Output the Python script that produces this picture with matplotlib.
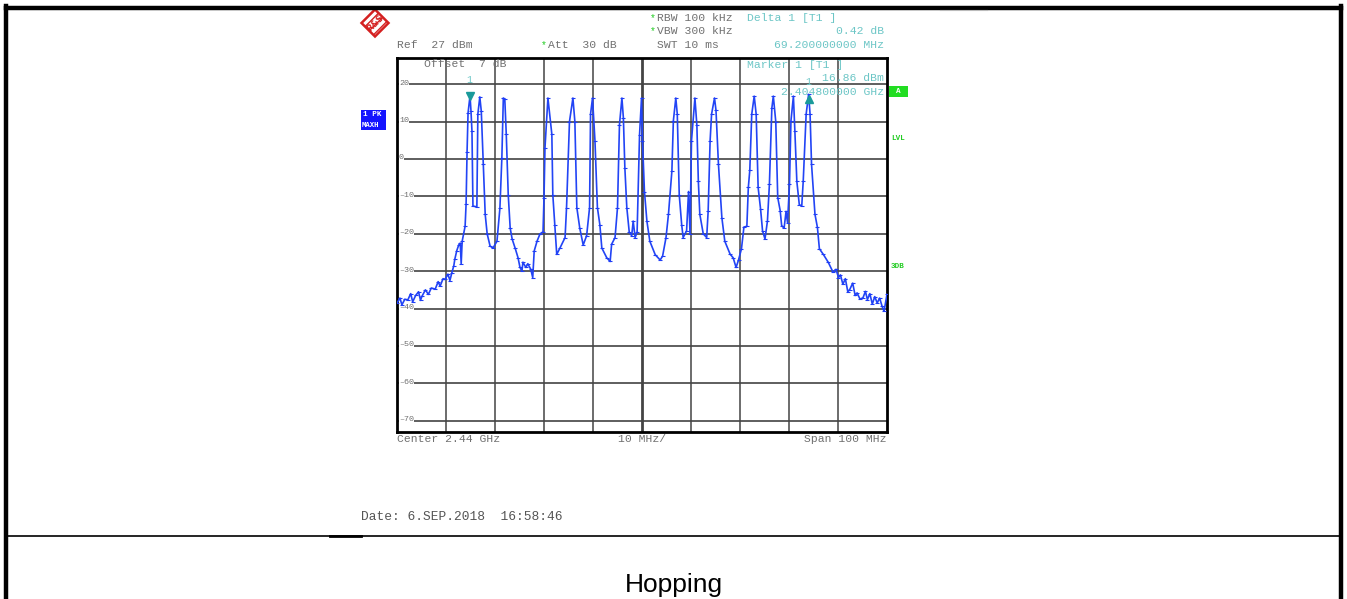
import numpy as np
import matplotlib.pyplot as plt
from matplotlib.lines import Line2D
from matplotlib.patches import Polygon, Rectangle

# 分析仪设置
center_mhz = 2440.0
span_mhz = 100.0
ref_level = 27
offset_db = 7
y_ticks = [20, 10, 0, -10, -20, -30, -40, -50, -60, -70]

# 迹线数据：相对起始频率的偏移 (MHz) 与电平 (dBm)
trace_off = [0.0, 0.6, 1.0, 1.6, 2.2, 2.8, 3.2, 3.8, 4.4, 4.8, 5.1, 5.8, 6.4, 7.0, 7.8, 8.4, 8.8, 9.4, 9.8,
             10.4, 10.8, 11.2, 11.6, 11.8, 12.2, 12.6, 12.9, 13.1, 13.3, 13.9, 14.1, 14.3, 14.5, 14.9, 15.1,
             15.3, 15.5, 16.3, 16.5, 16.9, 17.2, 17.6, 18.0, 18.4, 19.0, 19.6, 20.4, 21.0, 21.4, 21.7, 22.0,
             22.3, 22.7, 23.1, 23.5, 24.1, 24.7, 25.1, 25.5, 25.7, 26.3, 26.7, 27.3, 27.7, 28.0, 28.6, 29.2,
             29.8, 30.0, 30.2, 30.8,
             31.6, 31.8, 32.2, 32.6, 33.3, 34.3, 34.6, 35.2, 35.9, 36.3, 36.7, 37.3, 38.0, 38.7, 39.3, 39.5,
             39.9, 40.4, 40.9, 41.4, 41.8, 42.8, 43.5, 43.8, 44.5, 45.0, 45.4, 45.9, 46.2, 46.5, 46.9, 47.4,
             47.9, 48.2, 48.6, 49.0, 49.5, 49.9, 50.1, 50.5, 51.0, 51.6, 52.7, 53.7, 54.2, 54.9, 55.4, 56.1,
             56.4, 56.9, 57.2, 57.6, 58.1, 58.4, 59.1, 59.5, 59.8, 60.1, 60.8, 61.2, 61.5, 61.8, 62.5, 63.2,
             63.5, 63.9, 64.2, 64.8, 65.1, 65.6, 66.3, 66.9, 68.0, 68.6, 69.2, 69.7,
             70.3, 70.8, 71.4, 71.7, 72.0, 72.4, 72.9, 73.3, 73.7, 74.2, 74.6, 75.1, 75.6, 76.0, 76.5, 76.8,
             77.3, 77.7, 78.2, 78.5, 79.0, 79.4, 79.7, 80.1, 80.4, 80.9, 81.2, 81.6, 82.1, 82.6, 82.9, 83.5,
             84.0, 84.3, 84.6, 85.3, 85.8, 86.2, 87.0, 88.0, 89.0, 89.6, 90.1, 90.5, 91.0, 91.5, 92.0, 92.4,
             93.0, 93.5, 93.9, 94.5, 95.1, 95.6, 96.0, 96.5, 97.0, 97.5, 98.0, 98.5, 99.0, 99.4, 100.0]
trace_dbm = [-38.5, -37.2, -39.0, -37.5, -37.7, -36.0, -38.2, -36.5, -35.5, -37.8, -36.7, -35.0, -36.2, -34.5,
             -34.8, -32.8, -34.0, -32.0, -32.2, -30.8, -32.5, -30.4, -28.5, -26.8, -24.5, -23.0, -22.5, -28.0,
             -22.0, -18.0, -12.0, 2.0, 12.3, 16.9, 12.8, 7.4, -12.6, -12.8, 12.0, 16.6, 12.8, -1.4, -14.8,
             -20.0, -23.3, -23.8, -22.0, -13.2, 0.3, 16.3, 16.0, 6.6, -9.5, -18.5, -21.4, -23.8, -26.4, -29.0,
             -30.0, -27.6, -29.0, -28.0, -29.5, -31.7, -24.6, -21.9, -20.0, -19.5, -10.4, 3.0, 16.3,
             6.6, -9.6, -17.6, -25.5, -23.7, -21.0, -13.0, 10.0, 16.3, 10.0, -13.0, -18.5, -23.0, -20.5, -13.0,
             12.0, 16.3, 4.9, -13.0, -17.6, -23.8, -26.4, -27.4, -22.8, -21.0, -13.0, 9.1, 16.3, 11.0, -2.3,
             -13.0, -19.6, -20.5, -16.6, -21.0, -19.6, 6.5, 16.3, 4.9, -8.7, -16.6, -22.0, -25.6, -27.0, -26.0,
             -21.0, -14.8, -3.2, 10.2, 16.3, 12.0, -9.6, -17.6, -21.0, -19.2, -8.7, -20.0, 4.9, 16.3, 9.0,
             -6.0, -14.8, -20.0, -21.0, -14.0, 4.9, 12.0, 16.3, 13.0, -1.4, -15.7, -22.0, -25.5, -26.4, -29.0,
             -27.0,
             -24.0, -18.2, -18.0, -7.6, -3.0, 12.0, 16.8, 12.0, -7.6, -13.4, -19.2, -21.4, -16.6, -6.8, 13.6,
             16.8, 10.0, -10.3, -13.8, -17.8, -18.5, -14.0, -17.0, -6.8, 10.2, 16.8, 7.4, -6.0, -12.2, -12.6,
             -6.0, 12.0, 17.28, 12.0, -1.4, -14.8, -18.3, -24.0, -25.5, -27.6, -30.3, -29.5, -31.7, -31.0,
             -33.5, -32.0, -35.5, -34.9, -33.2, -36.5, -35.8, -37.5, -37.1, -35.4, -37.6, -36.0, -38.8, -36.8,
             -38.5, -37.2, -39.4, -40.7, -36.2]

# 标记
marker1_mhz = 2404.8
marker1_dbm = 16.86
delta_mhz = 69.2
delta_db = 0.42

W, H = 1347, 599
fig = plt.figure(figsize=(W / 100, H / 100), dpi=100)
mono = 'Liberation Mono'
gray = '#707070'
teal = '#6cc6c6'
green = '#22cc22'


def fx(x):
    return x / W


def fy(y):
    return 1 - y / H


def ftext(x, y, s, **kw):
    kw.setdefault('family', mono)
    kw.setdefault('fontsize', 8.2)
    kw.setdefault('color', gray)
    kw.setdefault('va', 'center')
    fig.text(fx(x), fy(y), s, **kw)


def fline(xs, ys, **kw):
    fig.add_artist(Line2D([fx(v) for v in xs], [fy(v) for v in ys], transform=fig.transFigure, **kw))


# 外框表格线
fline([6, 1341], [7.5, 7.5], color='black', lw=3.2)
fline([6.5, 6.5], [6, 599], color='black', lw=3.2)
fline([1340.5, 1340.5], [6, 599], color='black', lw=3.2)
fline([8, 1340], [535.5, 535.5], color='black', lw=1.2)
fline([330, 361], [535.5, 535.5], color='black', lw=2)
fline([940, 987], [9.8, 9.8], color='#bbbbbb', lw=0.8)

# 频谱图
start_mhz = center_mhz - span_mhz / 2
freq = start_mhz + np.array(trace_off)
ax = fig.add_axes([fx(397), fy(432), fx(887) - fx(397), fy(58) - fy(432)])
ax.set_xlim(start_mhz, start_mhz + span_mhz)
ax.set_ylim(ref_level - 100, ref_level)
for v in y_ticks:
    ax.axhline(v, color='#333333', lw=1.1, zorder=1)
for k in range(1, 10):
    ax.axvline(start_mhz + k * 10, color='#444444', lw=2.0 if k == 5 else 1.1, zorder=1)
for s in ax.spines.values():
    s.set_linewidth(2)
ax.set_xticks([])
ax.set_yticks([])
for v in y_ticks:
    ax.text(start_mhz + 0.4, v + 0.3, f'{v}'.replace('-', '\u2013'), family=mono, fontsize=6, color=gray,
            va='center', ha='left', zorder=2,
            bbox=dict(facecolor='white', edgecolor='none', pad=0.2))
ax.plot(freq, trace_dbm, color='#2244f5', lw=1.2, zorder=3,
        marker='_', ms=2.5, mew=0.8, mec='#1f3df7')

# 标记三角
m2_mhz = marker1_mhz + delta_mhz
m2_dbm = marker1_dbm + delta_db
ax.plot([marker1_mhz], [marker1_dbm], marker='v', color='#1a9a9a', ms=6, zorder=4)
ax.plot([m2_mhz], [m2_dbm - 1.2], marker='^', color='#1a9a9a', ms=6, zorder=4)
ax.text(marker1_mhz, marker1_dbm + 4.2, '1', family=mono, fontsize=7, color=teal, ha='center', va='center')
ax.text(m2_mhz, m2_dbm + 3.4, '1', family=mono, fontsize=7, color=teal, ha='center', va='center')

# R&S 标志
cx, cy, r = 375, 23, 13.5
fig.add_artist(Polygon([(fx(cx), fy(cy - r)), (fx(cx + r), fy(cy)), (fx(cx), fy(cy + r)), (fx(cx - r), fy(cy))],
                       closed=True, transform=fig.transFigure, facecolor='white', edgecolor='#d42020',
                       lw=1.8, hatch='////'))
fig.text(fx(cx), fy(cy), 'R&S', fontsize=6, color='#d42020', ha='center', va='center', rotation=45,
         weight='bold')

# 顶部设置信息
ftext(397, 45, 'Ref  27 dBm')
ftext(541, 45, '*', color=green, fontsize=7)
ftext(548, 45, 'Att  30 dB')
ftext(650, 18, '*', color=green, fontsize=7)
ftext(657, 18, 'RBW 100 kHz')
ftext(650, 31, '*', color=green, fontsize=7)
ftext(657, 31, 'VBW 300 kHz')
ftext(657, 45, 'SWT 10 ms')
ftext(747, 18, 'Delta 1 [T1 ]', color=teal)
ftext(884, 31, f'{delta_db:.2f} dB', color=teal, ha='right')
ftext(884, 45, f'{delta_mhz:.9f} MHz', color=teal, ha='right')
ftext(424, 64, f'Offset  {offset_db} dB')
ftext(747, 65, 'Marker 1 [T1 ]', color=teal)
ftext(884, 78, f'{marker1_dbm:.2f} dBm', color=teal, ha='right')
ftext(884, 92, f'{marker1_mhz / 1000:.9f} GHz', color=teal, ha='right')

# 左侧迹线标签与右侧状态
fig.add_artist(Rectangle((fx(361), fy(119.5)), fx(25), fy(110) - fy(119.5), transform=fig.transFigure,
                         facecolor='#1414ff', edgecolor='none'))
fig.add_artist(Rectangle((fx(361), fy(129.5)), fx(25), fy(120.5) - fy(129.5), transform=fig.transFigure,
                         facecolor='#1414ff', edgecolor='none'))
ftext(363, 115, '1 PK', color='white', fontsize=5.5, weight='bold')
ftext(362, 125, 'MAXH', color='white', fontsize=5.2, weight='bold')
fig.add_artist(Rectangle((fx(889), fy(96.5)), fx(19), fy(86) - fy(96.5), transform=fig.transFigure,
                         facecolor='#22dd22', edgecolor='none'))
ftext(898.5, 91, 'A', color='white', fontsize=5.5, weight='bold', ha='center')
ftext(891, 138, 'LVL', color=green, fontsize=5.5, weight='bold')
ftext(891, 266, '3DB', color=green, fontsize=5.5, weight='bold')

# 底部信息
ftext(397, 439, f'Center {center_mhz / 1000:.2f} GHz')
ftext(642, 439, f'{span_mhz / 10:.0f} MHz/', ha='center')
ftext(886, 439, f'Span {span_mhz:.0f} MHz', ha='right')
ftext(361, 517, 'Date: 6.SEP.2018  16:58:46', fontsize=9.3, color='#555555')

fig.text(fx(674), fy(585), 'Hopping', family='Liberation Sans', fontsize=19, color='black',
         ha='center', va='center')

fig.savefig('out.png', dpi=100)
